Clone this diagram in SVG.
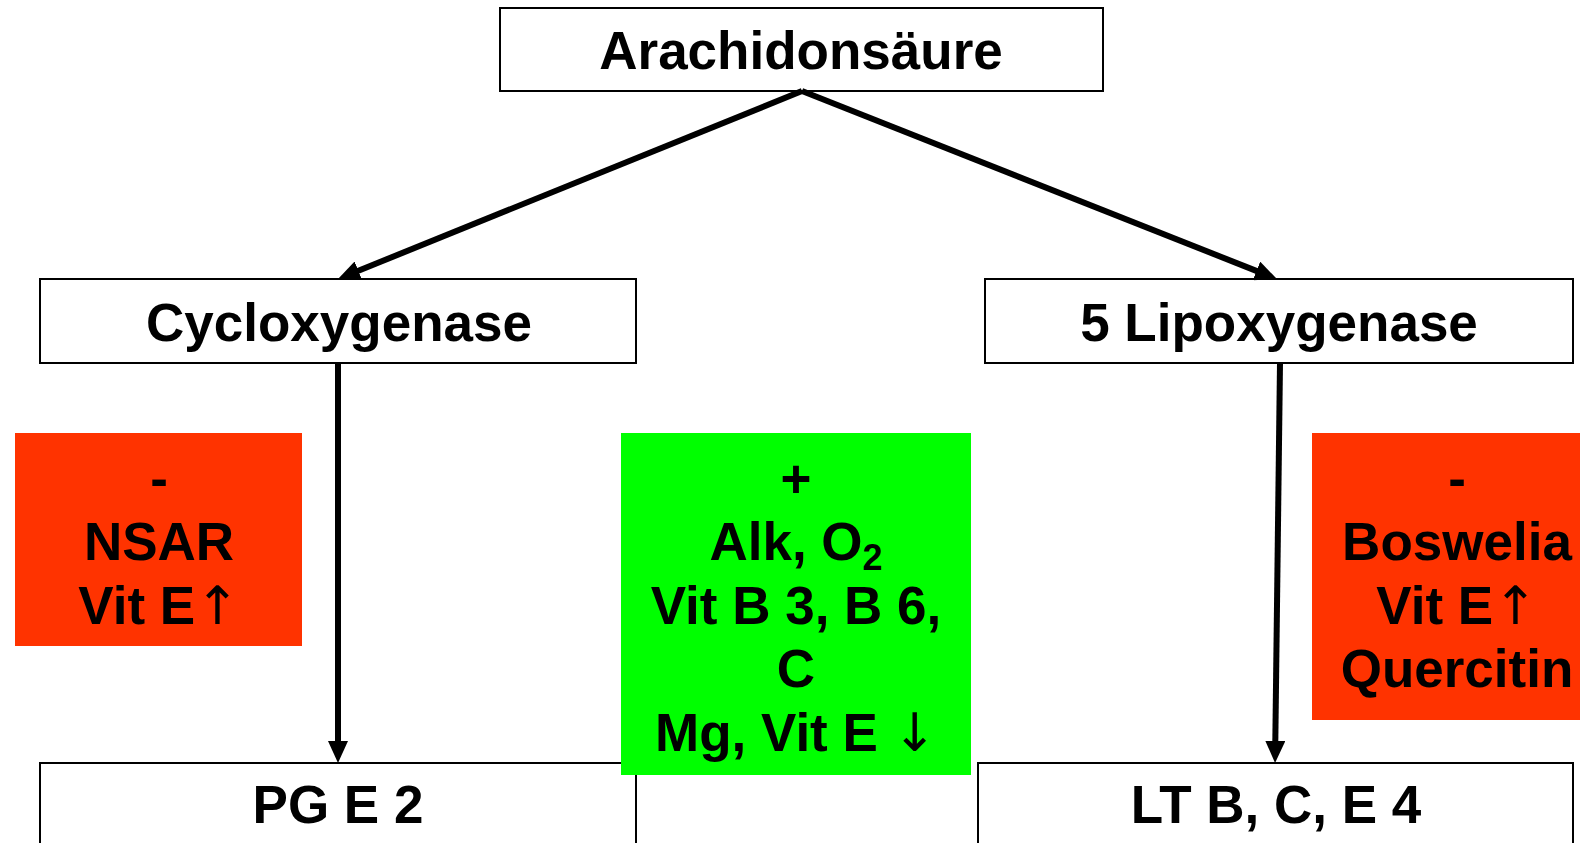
<svg xmlns="http://www.w3.org/2000/svg" width="1580" height="843" viewBox="0 0 1580 843">
<defs>
<style>
.box{fill:#fff;stroke:#000;stroke-width:2}
.t{font-family:"Liberation Sans",Arial,sans-serif;font-weight:bold;font-size:53px;fill:#000;text-anchor:middle}
.ar{font-weight:normal;font-family:"DejaVu Sans","Liberation Sans",sans-serif}
.red{fill:#FF3300}
.green{fill:#00FF00}
.conn{stroke:#000;stroke-width:6;fill:none}
</style>
<marker id="ah" markerUnits="userSpaceOnUse" markerWidth="22" markerHeight="20" viewBox="0 0 22 20" refX="10" refY="10" orient="auto">
<path d="M0,0 L22,10 L0,20 Z" fill="#000"/>
</marker>
</defs>
<rect width="1580" height="843" fill="#fff"/>
<g id="n-arachidonsaeure">
<rect class="box" x="500" y="8" width="603" height="83"/>
<text class="t" x="801" y="69">Arachidonsäure</text>
</g>
<g id="n-cycloxygenase">
<rect class="box" x="40" y="279" width="596" height="84"/>
<text class="t" x="339" y="341">Cycloxygenase</text>
</g>
<g id="n-lipoxygenase">
<rect class="box" x="985" y="279" width="588" height="84"/>
<text class="t" x="1279" y="341">5 Lipoxygenase</text>
</g>
<g id="n-pge2">
<rect class="box" x="40" y="763" width="596" height="90"/>
<text class="t" x="338" y="823">PG E 2</text>
</g>
<g id="n-lt">
<rect class="box" x="978" y="763" width="595" height="90"/>
<text class="t" x="1276" y="823">LT B, C, E 4</text>
</g>
<g id="connectors">
<line class="conn" x1="802" y1="91" x2="349.1" y2="274.5" marker-end="url(#ah)"/>
<line class="conn" x1="802" y1="91" x2="1265.8" y2="274.6" marker-end="url(#ah)"/>
<line class="conn" x1="338" y1="363" x2="338" y2="751" marker-end="url(#ah)"/>
<line class="conn" x1="1280" y1="363" x2="1275.2" y2="751" marker-end="url(#ah)"/>
</g>
<g id="n-nsar">
<rect class="red" x="15" y="433" width="287" height="213"/>
<text class="t" x="159" y="497">-</text>
<text class="t" x="159" y="560">NSAR</text>
<text class="t" x="159" y="624">Vit E<tspan class="ar">↑</tspan></text>
</g>
<g id="n-plus">
<rect class="green" x="621" y="433" width="350" height="342"/>
<text class="t" x="796" y="497">+</text>
<text class="t" x="796" y="560">Alk, O<tspan font-size="36" dy="10">2</tspan></text>
<text class="t" x="796" y="624">Vit B 3, B 6,</text>
<text class="t" x="796" y="687">C</text>
<text class="t" x="796" y="751">Mg, Vit E <tspan class="ar">↓</tspan></text>
</g>
<g id="n-boswelia">
<rect class="red" x="1312" y="433" width="268" height="287"/>
<text class="t" x="1457" y="497">-</text>
<text class="t" x="1457" y="560">Boswelia</text>
<text class="t" x="1457" y="624">Vit E<tspan class="ar">↑</tspan></text>
<text class="t" x="1457" y="687">Quercitin</text>
</g>
</svg>
